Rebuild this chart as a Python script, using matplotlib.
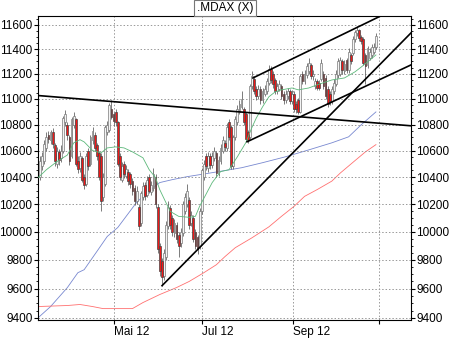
import numpy as np
import matplotlib
matplotlib.use('Agg')
import matplotlib.pyplot as plt
from matplotlib.ticker import FixedLocator, NullFormatter

plt.rcParams['font.family'] = ['Liberation Sans', 'DejaVu Sans']

# daily candles, index 0 = first trading day shown (about 19 Mar 2012)
opens = [10400, 10480, 10520, 10620, 10720, 10680, 10740, 10640, 10500, 10590,
         10540, 10600, 10820, 10800, 10700, 10560, 10800, 10840, 10520, 10470,
         10540, 10400, 10350, 10600, 10500, 10680, 10720, 10640, 10580, 10560,
         10250, 10350, 10740, 10760, 10920, 10880, 10900, 10820, 10560, 10380,
         10500, 10410, 10440, 10420, 10370, 10320, 10220, 10180, 10060, 10250,
         10340, 10270, 10400, 10290, 10320, 10400, 10180, 9900, 9790, 9690,
         9820, 10040, 10170, 10100, 9990, 10050, 9980, 9920, 9990, 10150,
         10200, 10230, 10060, 10100, 10000, 9960, 9900, 10150, 10400, 10560,
         10470, 10560, 10490, 10540, 10580, 10430, 10520, 10600, 10660, 10620,
         10820, 10780, 10480, 10700, 10820, 10900, 10940, 10920, 10880, 10740,
         10700, 11100, 11160, 11080, 11020, 11080, 10990, 11040, 11060, 11130,
         11240, 11200, 11150, 11060, 11080, 11100, 11040, 10990, 11020, 11060,
         10980, 11040, 10960, 10990, 10900, 11200, 11140, 11190, 11220, 11270,
         11180, 11100, 11140, 11130, 11160, 11200, 11170, 11080, 11040, 10980,
         11060, 11120, 11190, 11200, 11300, 11220, 11310, 11230, 11350, 11370,
         11480, 11530, 11560, 11500, 11480, 11350, 11270, 11330, 11350, 11380,
         11420]
closes = [10520, 10560, 10650, 10700, 10690, 10740, 10650, 10520, 10600, 10530,
          10600, 10850, 10880, 10720, 10520, 10840, 10870, 10500, 10460, 10560,
          10380, 10340, 10560, 10480, 10700, 10750, 10620, 10560, 10400, 10220,
          10400, 10780, 10800, 10950, 10860, 10830, 10820, 10500, 10400, 10480,
          10420, 10460, 10370, 10350, 10300, 10220, 10300, 10040, 10280, 10330,
          10260, 10380, 10300, 10340, 10420, 10200, 9880, 9720, 9680, 9850,
          10050, 10180, 10050, 10000, 10060, 9950, 9900, 10000, 10200, 10250,
          10300, 10050, 10120, 9950, 9900, 9880, 10150, 10450, 10500, 10480,
          10560, 10490, 10560, 10600, 10430, 10530, 10620, 10680, 10630, 10780,
          10700, 10480, 10700, 10840, 10920, 10960, 11000, 10820, 10690, 10680,
          11100, 11180, 11060, 11020, 11080, 10990, 11060, 11080, 11140, 11240,
          11150, 11120, 11060, 11100, 11120, 11020, 10990, 11040, 11060, 10980,
          11040, 10920, 10920, 10900, 11180, 11140, 11200, 11260, 11290, 11180,
          11200, 11140, 11090, 11090, 11290, 11100, 11020, 10960, 10980, 11080,
          11130, 11200, 11300, 11310, 11230, 11280, 11230, 11380, 11300, 11480,
          11540, 11560, 11490, 11470, 11290, 11260, 11410, 11380, 11420, 11420,
          11510]
highs = [10560, 10590, 10680, 10740, 10750, 10760, 10770, 10660, 10630, 10610,
         10640, 10870, 10910, 10820, 10720, 10860, 10900, 10850, 10560, 10590,
         10560, 10420, 10580, 10620, 10720, 10780, 10740, 10660, 10600, 10580,
         10430, 10800, 10830, 10970, 10990, 10900, 10920, 10830, 10580, 10510,
         10520, 10490, 10460, 10440, 10390, 10340, 10330, 10200, 10300, 10360,
         10360, 10410, 10420, 10370, 10470, 10420, 10200, 9920, 9810, 9880,
         10080, 10220, 10190, 10120, 10090, 10070, 10000, 10030, 10220, 10280,
         10350, 10250, 10150, 10120, 10020, 9980, 10170, 10470, 10530, 10580,
         10590, 10580, 10590, 10630, 10600, 10560, 10650, 10710, 10680, 10810,
         10840, 10800, 10720, 10870, 10950, 10990, 11060, 10940, 10900, 10760,
         11120, 11220, 11180, 11100, 11110, 11100, 11090, 11110, 11170, 11270,
         11260, 11220, 11170, 11130, 11150, 11120, 11060, 11070, 11090, 11080,
         11070, 11060, 10980, 11010, 11200, 11220, 11230, 11290, 11330, 11290,
         11230, 11170, 11160, 11150, 11320, 11220, 11190, 11100, 11060, 11100,
         11160, 11230, 11330, 11340, 11320, 11310, 11330, 11410, 11370, 11510,
         11560, 11590, 11570, 11520, 11500, 11370, 11430, 11410, 11440, 11450,
         11530]
lows = [10380, 10450, 10500, 10600, 10660, 10650, 10620, 10480, 10470, 10490,
        10510, 10580, 10790, 10680, 10490, 10540, 10770, 10480, 10430, 10440,
        10360, 10310, 10330, 10450, 10480, 10650, 10600, 10530, 10380, 10150,
        10220, 10330, 10720, 10740, 10840, 10790, 10790, 10480, 10380, 10360,
        10390, 10390, 10340, 10320, 10270, 10190, 10200, 10010, 10040, 10230,
        10230, 10250, 10280, 10270, 10300, 10170, 9850, 9690, 9620, 9660,
        9800, 10020, 10020, 9970, 9960, 9920, 9820, 9890, 9970, 10130,
        10180, 10020, 10040, 9930, 9880, 9840, 9880, 10130, 10380, 10450,
        10440, 10460, 10470, 10520, 10400, 10410, 10500, 10580, 10600, 10600,
        10680, 10460, 10460, 10680, 10800, 10880, 10920, 10800, 10670, 10660,
        10690, 11080, 11040, 10990, 11000, 10960, 10970, 11020, 11040, 11110,
        11130, 11090, 11040, 11040, 11060, 11000, 10960, 10970, 11000, 10960,
        10960, 10900, 10890, 10880, 10890, 11120, 11120, 11170, 11200, 11160,
        11150, 11080, 11070, 11070, 11140, 11080, 11000, 10940, 10950, 10960,
        11040, 11100, 11170, 11180, 11200, 11200, 11210, 11210, 11280, 11350,
        11460, 11510, 11470, 11440, 11270, 11120, 11250, 11310, 11330, 11360,
        11400]

# moving averages (candle index, value)
ma_fast_x = [-1, 3, 8, 13, 16, 19, 21, 25, 29, 32, 36, 40, 44, 49, 52, 55, 57, 60, 62, 66,
             71, 74, 76, 79, 82, 86, 90, 94, 98, 101, 103, 106, 109, 112, 115, 120, 123, 128,
             132, 139, 145, 150, 153, 156, 160]
ma_fast = [10395, 10455, 10516, 10566, 10658, 10683, 10666, 10600, 10582, 10620, 10628, 10620,
           10590, 10545, 10455, 10396, 10307, 10210, 10147, 10111, 10104, 10111, 10184, 10271,
           10359, 10441, 10455, 10553, 10660, 10780, 10850, 10938, 11017, 11056, 11072, 11087,
           11072, 11087, 11112, 11151, 11167, 11216, 11255, 11296, 11353]
ma_mid_x = [-1, 5, 13, 18, 21, 27, 32, 37, 41, 46, 51, 57, 63, 70, 76, 82, 96, 106, 117, 128,
            139, 147, 153, 160]
ma_mid = [9400, 9477, 9607, 9710, 9731, 9858, 9966, 10030, 10111, 10213, 10285, 10359, 10381,
          10403, 10418, 10433, 10470, 10508, 10553, 10605, 10659, 10705, 10798, 10898]
ma_slow_x = [-1, 13, 19, 25, 30, 37, 44, 49, 57, 65, 71, 78, 84, 88, 93, 101, 109, 115, 121,
             126, 132, 139, 143, 149, 155, 160]
ma_slow = [9477, 9484, 9491, 9477, 9463, 9463, 9463, 9504, 9559, 9607, 9649, 9710, 9766, 9822,
           9886, 9957, 10035, 10111, 10184, 10257, 10307, 10370, 10430, 10510, 10590, 10645]

# trend lines drawn by hand on the chart: (x0, y0, x1, y1)
trend_lines = [(-1, 11027, 176.7, 10790),
               (58.1, 9620, 176.7, 11534),
               (98.6, 10667, 176.7, 11272),
               (101.4, 11167, 164, 11690)]

month_pos = [35, 77, 120.5, 161.5]
month_labels = ['Mai 12', 'Jul 12', 'Sep 12', '']
y_ticks = list(range(9400, 11601, 200))

fig = plt.figure(figsize=(4.5, 3.38), dpi=100)
ax = fig.add_axes([0.0844, 0.0533, 0.8289, 0.8994])
ax.set_yscale('log')

idx = np.arange(len(closes))
o = np.array(opens)
c = np.array(closes)
up = c >= o
ax.vlines(idx, lows, highs, color='#666666', linewidth=0.6, zorder=2)
bottom = np.minimum(o, c)
height = np.abs(c - o)
ax.bar(idx[up], height[up], bottom=bottom[up], width=0.85, color='#f4f4f4',
       edgecolor='#7a7a7a', linewidth=0.5, zorder=3)
ax.bar(idx[~up], height[~up], bottom=bottom[~up], width=0.85, color='#f01818',
       edgecolor='#444444', linewidth=0.5, zorder=3)

ax.plot(ma_fast_x, ma_fast, color='#5cb87a', linewidth=0.6, zorder=4)
ax.plot(ma_mid_x, ma_mid, color='#7888d0', linewidth=0.6, zorder=1)
ax.plot(ma_slow_x, ma_slow, color='#ff7070', linewidth=0.6, zorder=1)

for x0, y0, x1, y1 in trend_lines:
    ax.plot([x0, x1], [y0, y1], color='black', linewidth=1.2, zorder=5)

ax.set_xlim(-1, 176.7)
ax.set_ylim(9386, 11675)
ax.yaxis.set_major_locator(FixedLocator(y_ticks))
ax.yaxis.set_minor_locator(FixedLocator(list(range(9400, 11651, 50))))
ax.yaxis.set_major_formatter(plt.FixedFormatter([str(v) for v in y_ticks]))
ax.yaxis.set_minor_formatter(NullFormatter())
ax.set_xticks(month_pos)
ax.set_xticklabels(month_labels, ha='left')
ax.tick_params(axis='y', which='both', left=True, right=True, labelleft=True,
               labelright=True, labelsize=8.5, direction='out', length=3, pad=1)
ax.tick_params(axis='y', which='minor', length=1.5)
ax.tick_params(axis='x', labelsize=8.5, length=3, pad=1)
ax.grid(True, which='major', color='#999999', linestyle=(0, (1.5, 2)), linewidth=0.7)

fig.text(0.5, 0.976, '.MDAX (X)', ha='center', va='center', fontsize=8.5,
         bbox=dict(boxstyle='square,pad=0.2', facecolor='white', edgecolor='#777777',
                   linewidth=0.8))

fig.savefig('out.png', dpi=100)
